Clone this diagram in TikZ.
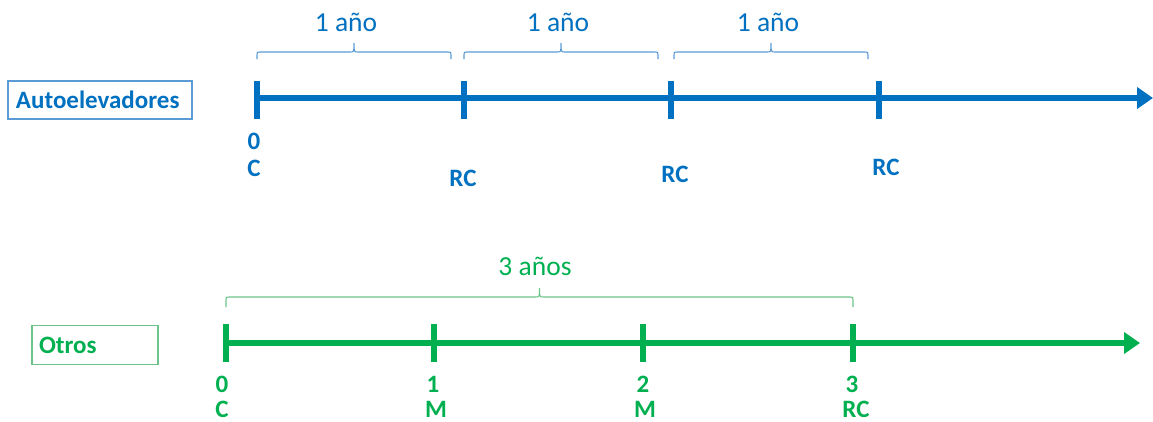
\documentclass[tikz,border=0pt]{standalone}
\usepackage{fontspec}
\setmainfont{Carlito}
\usetikzlibrary{arrows.meta}
\definecolor{cblue}{HTML}{0070C0}
\definecolor{lblue}{HTML}{5B9BD5}
\definecolor{cgreen}{HTML}{00B050}
\definecolor{lgreen}{HTML}{6CC48A}
\newcommand{\myBrace}[6]{% color, x1, x2, yline, end drop, cusp rise
  \draw[#1, line width=1.1pt]
    (#2,#4+#5) -- (#2,#4+3) .. controls (#2,#4) .. (#2+3,#4)
    -- ({(#2+#3)/2-4},#4) .. controls ({(#2+#3)/2},#4) .. ({(#2+#3)/2},#4-#6)
    .. controls ({(#2+#3)/2},#4) .. ({(#2+#3)/2+4},#4)
    -- (#3-3,#4) .. controls (#3,#4) .. (#3,#4+3) -- (#3,#4+#5);}
\begin{document}
\begin{tikzpicture}[x=1pt,y=-1pt,
  axisline/.style={line width=6pt,-{Triangle[length=16pt,width=21pt]}},
  tickline/.style={line width=6.5pt},
  yearlbl/.style={font=\fontsize{27.5}{30}\selectfont, inner sep=0pt},
  ptlbl/.style={font=\fontsize{25}{27}\selectfont\bfseries, inner sep=0pt},
  catbox/.style={draw, line width=1.2pt, font=\fontsize{25}{27}\selectfont\bfseries, align=left, inner ysep=0pt}]
\useasboundingbox (0,0) rectangle (1153,421);

% ---------- Autoelevadores ----------
\node[catbox, draw=lblue, text=cblue, text width=168pt, inner xsep=8pt, minimum height=38pt] (auto) at (100,100) {Autoelevadores};

\coordinate (a0) at (257,98);
\coordinate (a1) at (464,98);
\coordinate (a2) at (671,98);
\coordinate (a3) at (879,98);
\coordinate (aend) at (1153,98);
\draw[cblue, axisline] (a0) -- (aend);
\foreach \c in {a0,a1,a2,a3}{
  \draw[cblue, tickline] ([yshift=17pt]\c) -- ([yshift=-21pt]\c);
}

\myBrace{lblue}{257}{451}{52}{7}{9}
\myBrace{lblue}{464}{658}{52}{7}{9}
\myBrace{lblue}{674}{868}{52}{7}{9}
\node[yearlbl, text=cblue] (y1) at (346,22) {1 año};
\node[yearlbl, text=cblue] (y2) at (558,22) {1 año};
\node[yearlbl, text=cblue] (y3) at (768,22) {1 año};

\node[ptlbl, text=cblue] (a0n) at (254,141) {0};
\node[ptlbl, text=cblue] (a0c) at (254,168) {C};
\node[ptlbl, text=cblue] (a1c) at (463,178) {RC};
\node[ptlbl, text=cblue] (a2c) at (675,174) {RC};
\node[ptlbl, text=cblue] (a3c) at (886,167) {RC};

% ---------- Otros ----------
\node[catbox, draw=lgreen, text=cgreen, text width=112pt, inner xsep=7pt, minimum height=39pt] (otros) at (95,345) {Otros};

\coordinate (b0) at (226,343);
\coordinate (b1) at (434,343);
\coordinate (b2) at (643,343);
\coordinate (b3) at (853,343);
\coordinate (bend) at (1140,343);
\draw[cgreen, axisline] (b0) -- (bend);
\foreach \c in {b0,b1,b2,b3}{
  \draw[cgreen, tickline] ([yshift=19pt]\c) -- ([yshift=-19pt]\c);
}

\myBrace{lgreen}{226}{853}{297}{10}{9}
\node[yearlbl, text=cgreen] (y4) at (535,266) {3 años};

\node[ptlbl, text=cgreen] (b0n) at (222,384) {0};
\node[ptlbl, text=cgreen] (b0c) at (222,409) {C};
\node[ptlbl, text=cgreen] (b1n) at (433,384) {1};
\node[ptlbl, text=cgreen] (b1c) at (436,409) {M};
\node[ptlbl, text=cgreen] (b2n) at (643,384) {2};
\node[ptlbl, text=cgreen] (b2c) at (645,409) {M};
\node[ptlbl, text=cgreen] (b3n) at (852,384) {3};
\node[ptlbl, text=cgreen] (b3c) at (856,409) {RC};
\end{tikzpicture}
\end{document}
